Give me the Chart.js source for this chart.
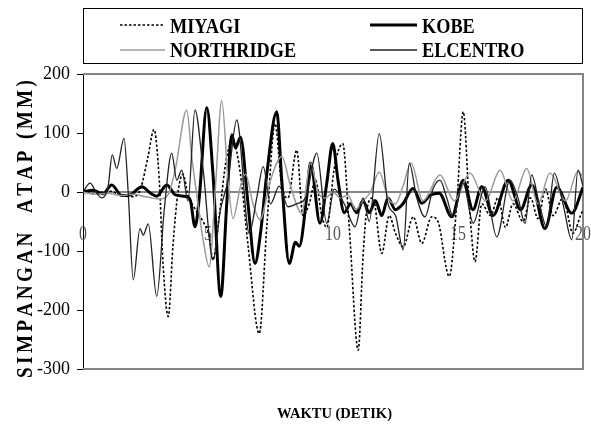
<!DOCTYPE html>
<html>
<head>
<meta charset="utf-8">
<script src="https://cdn.jsdelivr.net/npm/chart.js@4.4.1/dist/chart.umd.min.js"></script>
<style>
  html, body { margin: 0; padding: 0; background: #fff; }
  #wrap { width: 591px; height: 425px; }
</style>
</head>
<body>
<div id="wrap"><canvas id="c" width="591" height="425"></canvas></div>
<script>
// Roof displacement (mm) against time (s) for four ground motions.
const seriesNames = ['MIYAGI', 'KOBE', 'NORTHRIDGE', 'ELCENTRO'];
const yTickValues = [200, 100, 0, -100, -200, -300];
const xTickValues = [0, 5, 10, 15, 20];
const yTitle = 'SIMPANGAN  ATAP (MM)';
const xTitle = 'WAKTU (DETIK)';

// [time, displacement] samples
const miyagi = [
  [0,0],[0.5,-3],[1.0,2],[1.5,-5],[2.0,-8],[2.3,5],[2.6,60],[2.84,106],[3.05,20],[3.2,-120],
  [3.41,-211],[3.6,-90],[3.8,0],[4.0,30],[4.2,-5],[4.5,-30],[4.8,-50],[5.05,-75],[5.2,-115],
  [5.45,-40],[5.75,60],[6.0,85],[6.3,30],[6.6,-90],[7.05,-240],[7.35,-60],[7.68,116],[7.95,10],
  [8.2,-10],[8.55,71],[8.8,-40],[9.05,-20],[9.3,20],[9.55,-40],[9.75,-60],[10.05,40],[10.39,82],
  [10.65,-60],[11.01,-268],[11.2,-110],[11.35,-31],[11.6,-10],[11.95,-104],[12.25,-40],[12.5,-70],
  [12.81,-93],[13.21,-42],[13.55,-87],[13.95,-42],[14.2,-50],[14.65,-143],[14.95,-20],[15.21,136],
  [15.45,-20],[15.68,-118],[15.95,-20],[16.3,-40],[16.6,-10],[16.9,-60],[17.2,-20],[17.6,-50],
  [17.9,-10],[18.2,-45],[18.5,5],[18.8,-40],[19.2,-10],[19.6,-70],[19.9,-40],[20,-30]
];
const kobe = [
  [0,0],[0.4,3],[0.8,-3],[1.15,12],[1.55,-6],[1.88,-5],[2.35,9],[2.7,-2],[2.95,-7],[3.35,12],
  [3.7,-5],[4.15,-8],[4.3,-15],[4.48,-59],[4.65,-10],[4.95,143],[5.2,30],[5.51,-177],[5.75,-20],
  [5.95,97],[6.1,75],[6.3,93],[6.6,-20],[6.88,-121],[7.1,-70],[7.35,30],[7.75,136],[7.95,20],
  [8.25,-121],[8.5,-85],[8.65,-92],[8.95,-8],[9.1,49],[9.48,-53],[9.75,15],[9.99,82],[10.2,20],
  [10.45,-35],[10.7,-20],[10.95,-35],[11.2,-15],[11.45,-35],[11.7,-15],[11.95,-40],[12.2,-10],
  [12.5,-30],[12.8,-20],[13.2,6],[13.55,-19],[13.9,-5],[14.25,-2],[14.75,-42],[15.21,20],[15.6,-30],
  [15.95,9],[16.4,-40],[17.01,20],[17.5,-30],[17.95,12],[18.48,-62],[18.95,8],[19.55,-36],[20,8]
];
const northridge = [
  [0,0],[0.5,-4],[1.0,-2],[1.5,-6],[2.0,-4],[2.5,-8],[3.08,-12],[3.4,-5],[3.7,40],[4.15,139],
  [4.35,60],[4.6,-20],[4.8,-80],[5.05,-127],[5.3,10],[5.55,155],[5.8,20],[6.0,-45],[6.3,10],
  [6.5,30],[6.8,-20],[7.08,-47],[7.5,20],[7.95,60],[8.3,10],[8.75,-36],[9.1,49],[9.4,0],[9.7,-10],
  [10.0,0],[10.3,-10],[10.6,-5],[10.9,-30],[11.2,-15],[11.5,0],[11.85,34],[12.2,-10],[12.5,-20],
  [12.8,10],[13.12,49],[13.6,-15],[14.28,29],[14.85,-15],[15.48,32],[16.1,-15],[16.68,37],
  [17.2,-15],[17.75,40],[18.2,-20],[18.68,32],[19.3,-15],[19.8,35],[20,25]
];
const elcentro = [
  [0,0],[0.28,15],[0.55,-2],[0.75,-10],[1.0,8],[1.17,63],[1.35,40],[1.64,91],[1.81,-2],[2.01,-149],
  [2.28,-62],[2.41,-73],[2.61,-54],[2.95,-177],[3.25,-30],[3.55,66],[3.75,20],[3.95,37],[4.2,-15],
  [4.48,139],[4.8,40],[5.2,-115],[5.5,-30],[5.8,20],[6.15,122],[6.65,-70],[6.95,-10],[7.21,43],
  [7.5,-20],[7.85,10],[8.2,-25],[8.55,-20],[8.9,-10],[9.35,66],[9.75,-53],[10.05,5],[10.45,-20],
  [10.88,-59],[11.2,-10],[11.45,-50],[11.85,99],[12.2,-20],[12.5,-40],[12.81,-98],[13.05,49],
  [13.35,-10],[13.68,-42],[14.0,5],[14.28,20],[14.55,-10],[14.81,-42],[15.2,15],[15.61,-53],
  [16.08,9],[16.55,-76],[17.08,20],[17.4,-10],[17.68,-53],[17.95,29],[18.25,-20],[18.55,-59],
  [18.85,32],[19.2,-20],[19.55,-81],[19.8,37],[20,10]
];

const SERIF = '"Liberation Serif", "Times New Roman", serif';

// Draws text squeezed horizontally by sx.
function drawSqueezed(ctx, text, x, y, font, sx, align) {
  ctx.save();
  ctx.font = font;
  ctx.textBaseline = 'alphabetic';
  ctx.textAlign = 'left';
  const w = ctx.measureText(text).width * sx;
  let x0 = x;
  if (align === 'center') x0 = x - w / 2;
  else if (align === 'right') x0 = x - w;
  ctx.translate(x0, y);
  ctx.scale(sx, 1);
  ctx.fillText(text, 0, 0);
  ctx.restore();
}

// Grey plot frame, zero line and the time labels sitting under the traces.
const framePlugin = {
  id: 'plotFrame',
  beforeDatasetsDraw(chart) {
    const { ctx, chartArea: a, scales } = chart;
    ctx.save();
    ctx.strokeStyle = '#858585';
    ctx.lineWidth = 2;
    ctx.beginPath();
    ctx.moveTo(a.left, a.top);
    ctx.lineTo(a.right, a.top);
    ctx.lineTo(a.right, a.bottom);
    ctx.lineTo(a.left, a.bottom);
    ctx.stroke();
    const y0 = scales.y.getPixelForValue(0);
    ctx.beginPath();
    ctx.moveTo(a.left, y0);
    ctx.lineTo(a.right, y0);
    ctx.stroke();
    ctx.fillStyle = '#555';
    xTickValues.forEach(v => {
      const px = scales.x.getPixelForValue(v);
      drawSqueezed(ctx, String(v), px, y0 + 48, '22px ' + SERIF, 0.72, 'center');
    });
    ctx.restore();
  }
};

// Boxed two-column legend and the two axis titles.
const decorPlugin = {
  id: 'decor',
  afterDraw(chart) {
    const ctx = chart.ctx;
    ctx.save();
    ctx.strokeStyle = '#000';
    ctx.lineWidth = 1;
    ctx.strokeRect(83.5, 8.5, 499, 55);

    const slots = [
      { sx: 120, ex: 165, ly: 25, tx: 170, ty: 33.3 },
      { sx: 370, ex: 417, ly: 25, tx: 422, ty: 33.3 },
      { sx: 120, ex: 165, ly: 50, tx: 170, ty: 57.3 },
      { sx: 370, ex: 417, ly: 50, tx: 422, ty: 57.3 }
    ];
    chart.data.datasets.forEach((ds, i) => {
      const s = slots[i];
      ctx.save();
      ctx.strokeStyle = ds.borderColor;
      ctx.lineWidth = ds.borderWidth;
      ctx.setLineDash(ds.borderDash || []);
      ctx.beginPath();
      ctx.moveTo(s.sx, s.ly);
      ctx.lineTo(s.ex, s.ly);
      ctx.stroke();
      ctx.restore();
      ctx.fillStyle = '#000';
      drawSqueezed(ctx, ds.label, s.tx, s.ty, 'bold 22px ' + SERIF, 0.83, 'left');
    });

    // x title
    ctx.fillStyle = '#000';
    ctx.font = 'bold 15px ' + SERIF;
    const xw = ctx.measureText(xTitle).width;
    drawSqueezed(ctx, xTitle, 334.5, 418.3, 'bold 15px ' + SERIF, 115 / xw, 'center');

    // y title, letter-spaced and read bottom to top
    ctx.save();
    ctx.translate(31.5, 229);
    ctx.rotate(-Math.PI / 2);
    ctx.font = 'bold 24px ' + SERIF;
    const sx = 0.8, span = 298;
    const chars = yTitle.split('');
    const widths = chars.map(c => ctx.measureText(c).width * sx);
    const total = widths.reduce((p, q) => p + q, 0);
    const gap = (span - total) / (chars.length - 1);
    let pos = -span / 2;
    chars.forEach((c, k) => {
      ctx.save();
      ctx.translate(pos, 0);
      ctx.scale(sx, 1);
      ctx.fillText(c, 0, 0);
      ctx.restore();
      pos += widths[k] + gap;
    });
    ctx.restore();
    ctx.restore();
  }
};

const styles = {
  MIYAGI:     { borderColor: '#000', borderWidth: 1.6, borderDash: [2.5, 2], order: 4 },
  KOBE:       { borderColor: '#000', borderWidth: 3,   order: 3 },
  NORTHRIDGE: { borderColor: '#9a9a9a', borderWidth: 1.5, order: 2 },
  ELCENTRO:   { borderColor: '#222', borderWidth: 1.3, order: 1 }
};
const values = { MIYAGI: miyagi, KOBE: kobe, NORTHRIDGE: northridge, ELCENTRO: elcentro };

new Chart(document.getElementById('c'), {
  type: 'line',
  data: {
    datasets: seriesNames.map(name => Object.assign({
      label: name,
      data: values[name],
      pointRadius: 0,
      fill: false,
      cubicInterpolationMode: 'monotone'
    }, styles[name]))
  },
  options: {
    responsive: false,
    animation: false,
    devicePixelRatio: 1,
    layout: { padding: { left: 0, right: 8, top: 74, bottom: 0 } },
    plugins: { legend: { display: false }, tooltip: { enabled: false } },
    scales: {
      x: {
        type: 'linear', min: 0, max: 20,
        grid: { display: false },
        border: { display: false },
        ticks: { display: false },
        afterFit(scale) { scale.height = 56; }
      },
      y: {
        min: -300, max: 200,
        afterBuildTicks(scale) { scale.ticks = yTickValues.map(v => ({ value: v })); },
        ticks: { color: '#000', padding: 7, font: { family: SERIF, size: 18 } },
        grid: { drawOnChartArea: false, tickLength: 6, color: '#000', lineWidth: 1 },
        border: { color: '#000', width: 1 },
        afterFit(scale) { scale.width = 83; }
      }
    }
  },
  plugins: [framePlugin, decorPlugin]
});
</script>
</body>
</html>
